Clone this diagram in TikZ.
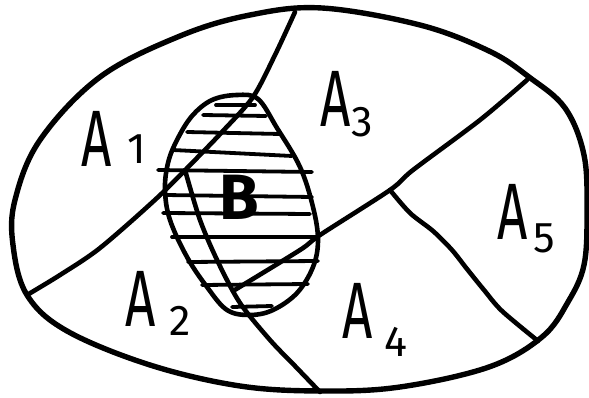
\documentclass[tikz,border=0pt]{standalone}
\usepackage{fontspec}
\setmainfont{Fira Sans}
\newcommand{\albl}[3]{\scalebox{0.66}[1]{A}\kern#3pt\raisebox{-#2pt}{\fontsize{43}{43}\selectfont #1}}
\begin{document}
\begin{tikzpicture}[x=1pt,y=-1pt, line cap=round, line join=round,
  outer/.style={line width=5.4pt},
  part/.style={line width=4.6pt},
  hatch/.style={line width=3.8pt},
  lbl/.style={anchor=base west, inner sep=0pt, font=\fontsize{80}{80}\selectfont}]
\useasboundingbox (0,0) rectangle (589,398);
% outer set
\draw[outer] plot[smooth cycle, tension=0.6] coordinates {
  (322,8) (420,25) (489,51) (529,77) (565,108) (584,155) (587,212) (584,265)
  (568,302) (542,337) (489,367) (400,387) (322,391) (240,386) (150,365)
  (67,331) (27,295) (13,245) (15,200) (40,140) (100,77) (180,36) (250,15)};
% junction coordinates
\coordinate (j1) at (185,170);
\coordinate (j2) at (233,291);
\coordinate (j3) at (390,190);
% partition lines
\draw[part] plot[smooth, tension=0.5] coordinates {(295,12) (275,55) (253,97) (222,132) (197,158) (157,198) (100,248) (60,275) (27,295)};
\draw[part] plot[smooth, tension=0.5] coordinates {(j1) (200,220) (218,262) (240,303) (270,340) (295,366) (320,392)};
\draw[part] plot[smooth, tension=0.5] coordinates {(527,80) (480,120) (413,170) (j3) (320,235) (300,250) (j2)};
\draw[part] plot[smooth, tension=0.5] coordinates {(j3) (410,213) (433,231) (452,250) (467,269) (484,290) (502,311) (538,341)};
% set B
\draw[part] plot[smooth cycle, tension=0.6] coordinates {
  (237,95) (258,99) (277,128) (300,167) (313,207) (318,240) (313,267) (297,293)
  (273,310) (250,315) (227,310) (207,287) (187,257) (170,220) (165,190)
  (168,163) (177,140) (192,116) (212,100)};
% hatching
\foreach \xa/\ya/\xb/\yb in {216/105/255/105, 203/115/266/116, 187/132/280/134,
  173/150/292/156, 158/170/312/172, 165/195/312/197, 163/213/310/214,
  172/237/318/237, 188/262/318/261, 202/285/308/284, 232/307/272/306}
  \draw[hatch] (\xa,\ya) -- (\xb,\yb);
% labels
\node[lbl] (a1) at (81,167) {\albl{1}{-3}{16}};
\node[lbl] (a2) at (125,326) {\albl{2}{9}{14}};
\node[lbl] (a3) at (320,127) {\albl{3}{10}{1}};
\node[lbl] (a4) at (342,338) {\albl{4}{18}{12}};
\node[lbl] (a5) at (497,240) {\albl{5}{13}{6}};
\node[anchor=base west, inner sep=0pt, font=\fontsize{64}{64}\selectfont\bfseries] (b) at (219,220) {B};
\end{tikzpicture}
\end{document}
